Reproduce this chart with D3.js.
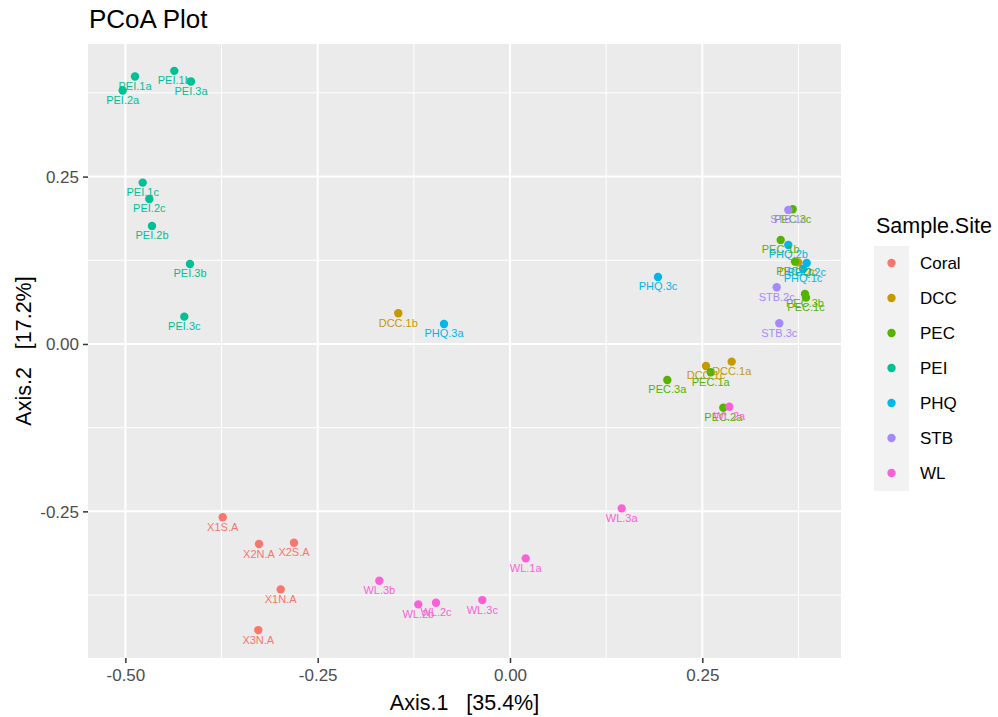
<!DOCTYPE html>
<html>
<head>
<meta charset="utf-8">
<script src="https://cdn.jsdelivr.net/npm/d3@7"></script>
<style>
  body { margin: 0; background: #fff; }
  svg text { font-family: "Liberation Sans", Arial, sans-serif; }
</style>
</head>
<body>
<svg></svg>
<script>
//Chart data
var sites = ["Coral", "DCC", "PEC", "PEI", "PHQ", "STB", "WL"];
var siteColors = ["#F8766D", "#C49A00", "#53B400", "#00C094", "#00B6EB", "#A58AFF", "#FB61D7"];

var sampleNames = ["X1S.A", "X2N.A", "X2S.A", "X1N.A", "X3N.A",
	"DCC.1b", "DCC.1a", "DCC.1c", "DCC.2c",
	"PEC.3a", "PEC.1a", "PEC.2a", "PEC.3c", "PEC.1b", "PEC.2c", "PEC.3b", "PEC.1c",
	"PEI.1a", "PEI.1b", "PEI.1c", "PEI.2a", "PEI.2b", "PEI.2c", "PEI.3a", "PEI.3b", "PEI.3c",
	"PHQ.3a", "PHQ.3c", "PHQ.2b", "PHQ.2c", "PHQ.1c",
	"STB.1c", "STB.2c", "STB.3c",
	"WL.3a", "WL.1a", "WL.3b", "WL.2b", "WL.2c", "WL.3c", "WL.2a"];
var sampleSite = ["Coral", "Coral", "Coral", "Coral", "Coral",
	"DCC", "DCC", "DCC", "DCC",
	"PEC", "PEC", "PEC", "PEC", "PEC", "PEC", "PEC", "PEC",
	"PEI", "PEI", "PEI", "PEI", "PEI", "PEI", "PEI", "PEI", "PEI",
	"PHQ", "PHQ", "PHQ", "PHQ", "PHQ",
	"STB", "STB", "STB",
	"WL", "WL", "WL", "WL", "WL", "WL", "WL"];
var axis1 = [-0.3735, -0.3263, -0.2808, -0.2981, -0.3272,
	-0.1452, 0.2882, 0.2548, 0.3748,
	0.2045, 0.2609, 0.2773, 0.3675, 0.3519, 0.3705, 0.3835, 0.3848,
	-0.4875, -0.4364, -0.4775, -0.5035, -0.4654, -0.4689, -0.4147, -0.4160, -0.4234,
	-0.0858, 0.1924, 0.3618, 0.3857, 0.3809,
	0.3618, 0.3467, 0.3501,
	0.1452, 0.0204, -0.1699, -0.1192, -0.0962, -0.0360, 0.2851];
var axis2 = [-0.2589, -0.2988, -0.2969, -0.3665, -0.4273,
	0.0459, -0.0264, -0.0329, 0.1218,
	-0.0538, -0.0423, -0.0952, 0.2013, 0.1554, 0.1230, 0.0747, 0.0692,
	0.3994, 0.4079, 0.2410, 0.3785, 0.1763, 0.2166, 0.3919, 0.1195, 0.0408,
	0.0299, 0.1001, 0.1479, 0.1210, 0.1121,
	0.2002, 0.0847, 0.0309,
	-0.2455, -0.3202, -0.3537, -0.3889, -0.3865, -0.3825, -0.0937];

var xTicks = [-0.50, -0.25, 0.00, 0.25];
var yTicks = [-0.25, 0.00, 0.25];
var xMinor = [-0.375, -0.125, 0.125, 0.375];
var yMinor = [-0.375, -0.125, 0.125, 0.375];

//Canvas settings
var width = 998;
var height = 717;
var panel = { left: 88, right: 841, top: 44, bottom: 658 };
var pointR = 4.2;

var svg = d3.select("svg")
	.attr("width", width)
	.attr("height", height);

var x = d3.scaleLinear().domain([-0.5486, 0.4303]).range([panel.left, panel.right]);
var y = d3.scaleLinear().domain([-0.469, 0.448]).range([panel.bottom, panel.top]);
var color = d3.scaleOrdinal().domain(sites).range(siteColors);

//R prints a plain hyphen for negatives
function fmt(v) {
	return d3.format(".2f")(v).replace("\u2212", "-");
}

//panel background
svg.append("rect")
	.attr("x", panel.left).attr("y", panel.top)
	.attr("width", panel.right - panel.left)
	.attr("height", panel.bottom - panel.top)
	.attr("fill", "#EBEBEB");

//grid lines, minor first
var grid = svg.append("g");
grid.selectAll(".xminor").data(xMinor).enter().append("line")
	.attr("x1", x).attr("x2", x)
	.attr("y1", panel.top).attr("y2", panel.bottom)
	.attr("stroke", "#fff").attr("stroke-width", 1);
grid.selectAll(".yminor").data(yMinor).enter().append("line")
	.attr("y1", y).attr("y2", y)
	.attr("x1", panel.left).attr("x2", panel.right)
	.attr("stroke", "#fff").attr("stroke-width", 1);
grid.selectAll(".xmajor").data(xTicks).enter().append("line")
	.attr("x1", x).attr("x2", x)
	.attr("y1", panel.top).attr("y2", panel.bottom)
	.attr("stroke", "#fff").attr("stroke-width", 2);
grid.selectAll(".ymajor").data(yTicks).enter().append("line")
	.attr("y1", y).attr("y2", y)
	.attr("x1", panel.left).attr("x2", panel.right)
	.attr("stroke", "#fff").attr("stroke-width", 2);

//axes
var xAxis = svg.append("g")
	.attr("transform", "translate(0," + panel.bottom + ")")
	.call(d3.axisBottom(x).tickValues(xTicks).tickFormat(fmt).tickSize(5).tickPadding(6));
var yAxis = svg.append("g")
	.attr("transform", "translate(" + panel.left + ",0)")
	.call(d3.axisLeft(y).tickValues(yTicks).tickFormat(fmt).tickSize(5).tickPadding(4));
[xAxis, yAxis].forEach(function(a) {
	a.select(".domain").remove();
	a.selectAll(".tick line").attr("stroke", "#333333").attr("stroke-width", 1.5);
	a.selectAll(".tick text")
		.attr("fill", "#4D4D4D")
		.style("font-size", "17px")
		.style("font-family", "Liberation Sans, Arial, sans-serif");
});
yAxis.selectAll(".tick text").attr("dy", "0.35em");

//points
var idx = d3.range(sampleNames.length);
svg.append("g").selectAll("circle")
	.data(idx).enter().append("circle")
	.attr("cx", function(i) { return x(axis1[i]); })
	.attr("cy", function(i) { return y(axis2[i]); })
	.attr("r", pointR)
	.attr("fill", function(i) { return color(sampleSite[i]); });

//point labels, just under each point
svg.append("g").selectAll("text")
	.data(idx).enter().append("text")
	.attr("x", function(i) { return x(axis1[i]); })
	.attr("y", function(i) { return y(axis2[i]) + 13.5; })
	.attr("text-anchor", "middle")
	.attr("fill", function(i) { return color(sampleSite[i]); })
	.style("font-size", "11px")
	.text(function(i) { return sampleNames[i]; });

//titles
svg.append("text")
	.attr("x", 89).attr("y", 28)
	.attr("fill", "#000")
	.style("font-size", "26px")
	.text("PCoA Plot");

svg.append("text")
	.attr("x", (panel.left + panel.right) / 2).attr("y", 710)
	.attr("text-anchor", "middle")
	.attr("fill", "#000")
	.style("font-size", "21.5px")
	.style("white-space", "pre")
	.text("Axis.1   [35.4%]");

svg.append("text")
	.attr("transform", "translate(31," + ((panel.top + panel.bottom) / 2) + ") rotate(-90)")
	.attr("text-anchor", "middle")
	.attr("fill", "#000")
	.style("font-size", "21.5px")
	.style("white-space", "pre")
	.text("Axis.2   [17.2%]");

//legend
var legend = svg.append("g");
legend.append("text")
	.attr("x", 876).attr("y", 233)
	.attr("fill", "#000")
	.style("font-size", "21.5px")
	.text("Sample.Site");
legend.append("rect")
	.attr("x", 874).attr("y", 246)
	.attr("width", 35).attr("height", sites.length * 35)
	.attr("fill", "#F2F2F2");
var keys = legend.selectAll(".key").data(sites).enter().append("g")
	.attr("transform", function(d, i) { return "translate(0," + (263 + i * 35) + ")"; });
keys.append("circle")
	.attr("cx", 891.5).attr("cy", 0).attr("r", pointR)
	.attr("fill", function(d) { return color(d); });
keys.append("text")
	.attr("x", 920).attr("y", 0).attr("dy", "0.35em")
	.attr("fill", "#000")
	.style("font-size", "17px")
	.text(function(d) { return d; });
</script>
</body>
</html>
